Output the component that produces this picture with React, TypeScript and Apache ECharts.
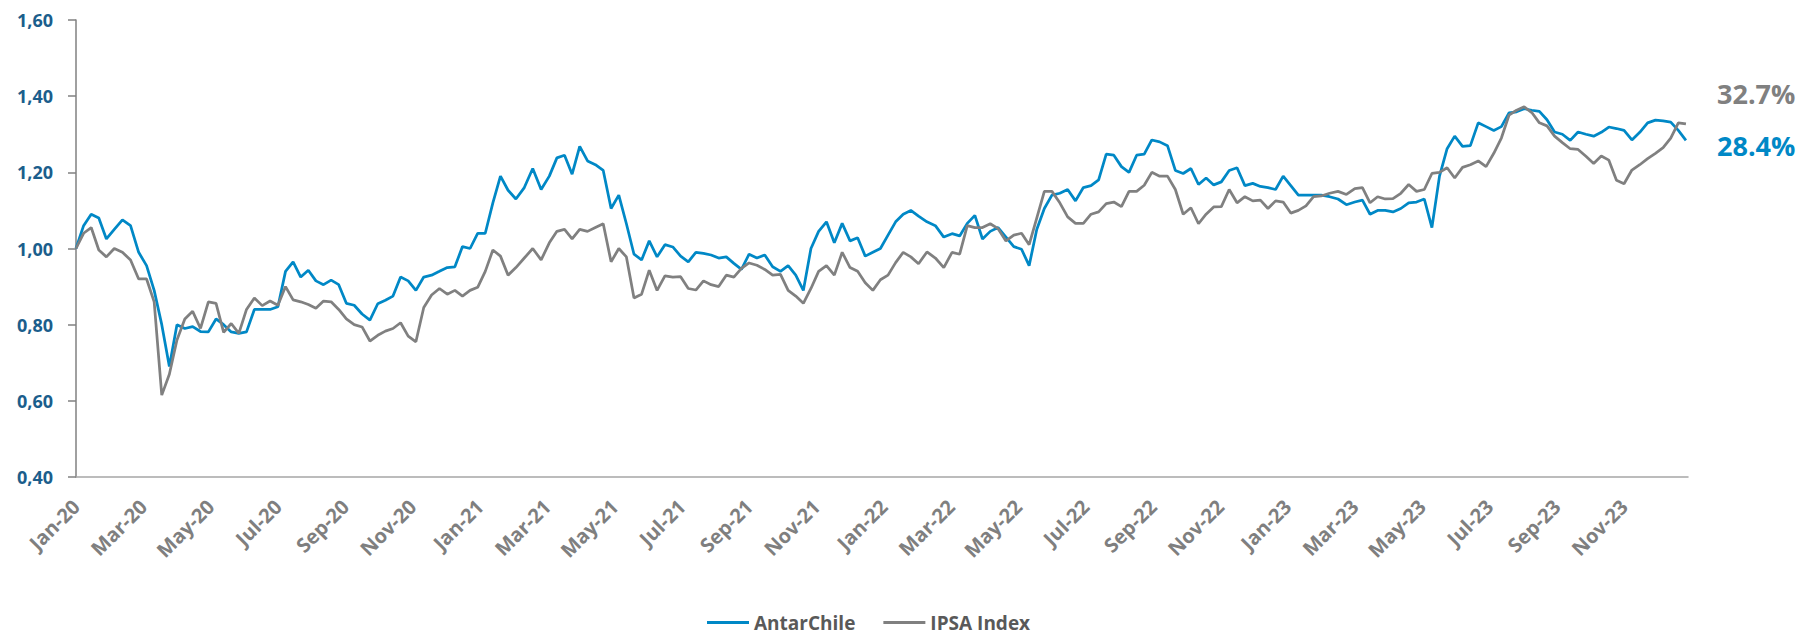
import React, { useEffect, useRef } from "react";
import * as echarts from "echarts";

// Weekly observations, starting 1 Jan 2020 (base = 1.00)
const antarChile: number[] = [
  1.00, 1.06, 1.09, 1.08, 1.025, 1.05, 1.075, 1.06, 0.99, 0.955,
  0.89, 0.80, 0.69, 0.80, 0.79, 0.795, 0.782, 0.781, 0.815, 0.80,
  0.781, 0.777, 0.781, 0.84, 0.84, 0.84, 0.847, 0.94, 0.965, 0.925,
  0.943, 0.915, 0.905, 0.917, 0.905, 0.856, 0.851, 0.828, 0.812, 0.855,
  0.864, 0.875, 0.925, 0.915, 0.89, 0.925, 0.93, 0.94, 0.95, 0.952,
  1.005, 1.00, 1.04, 1.04, 1.12, 1.19, 1.153, 1.13, 1.16, 1.21,
  1.155, 1.19, 1.238, 1.245, 1.195, 1.268, 1.23, 1.22, 1.205, 1.105,
  1.14, 1.065, 0.985, 0.97, 1.02, 0.978, 1.01, 1.004, 0.98, 0.965,
  0.99, 0.987, 0.983, 0.975, 0.978, 0.961, 0.945, 0.985, 0.975, 0.983,
  0.952, 0.94, 0.955, 0.93, 0.89, 1.00, 1.045, 1.07, 1.015, 1.066,
  1.02, 1.028, 0.98, 0.99, 1.00, 1.035, 1.07, 1.09, 1.10, 1.085,
  1.07, 1.06, 1.03, 1.039, 1.033, 1.066, 1.087, 1.025, 1.045, 1.055,
  1.03, 1.005, 0.998, 0.955, 1.05, 1.105, 1.14, 1.145, 1.155, 1.125,
  1.16, 1.165, 1.18, 1.248, 1.245, 1.215, 1.20, 1.245, 1.248, 1.285,
  1.28, 1.27, 1.205, 1.197, 1.21, 1.168, 1.185, 1.167, 1.175, 1.205,
  1.212, 1.165, 1.171, 1.163, 1.16, 1.155, 1.19, 1.165, 1.14, 1.14,
  1.14, 1.14, 1.136, 1.13, 1.115, 1.122, 1.127, 1.09, 1.10, 1.10,
  1.096, 1.105, 1.12, 1.122, 1.13, 1.055, 1.19, 1.262, 1.295, 1.268,
  1.27, 1.33, 1.32, 1.31, 1.32, 1.356, 1.359, 1.367, 1.363, 1.36,
  1.338, 1.306, 1.30, 1.284, 1.306, 1.30, 1.295, 1.305, 1.319, 1.315,
  1.31, 1.285, 1.305, 1.33, 1.337, 1.335, 1.332, 1.31, 1.284,
];

const ipsaIndex: number[] = [
  1.00, 1.04, 1.055, 0.996, 0.978, 1.00, 0.99, 0.97, 0.92, 0.92,
  0.86, 0.615, 0.67, 0.76, 0.815, 0.835, 0.79, 0.86, 0.856, 0.78,
  0.803, 0.777, 0.84, 0.87, 0.85, 0.862, 0.851, 0.90, 0.865, 0.86,
  0.853, 0.843, 0.862, 0.86, 0.84, 0.815, 0.80, 0.794, 0.757, 0.772,
  0.783, 0.79, 0.805, 0.77, 0.755, 0.845, 0.878, 0.895, 0.88, 0.89,
  0.875, 0.89, 0.898, 0.94, 0.996, 0.98, 0.93, 0.95, 0.975, 1.00,
  0.97, 1.015, 1.045, 1.05, 1.025, 1.05, 1.045, 1.055, 1.065, 0.965,
  1.00, 0.978, 0.87, 0.88, 0.943, 0.89, 0.928, 0.925, 0.926, 0.895,
  0.891, 0.915, 0.905, 0.90, 0.93, 0.925, 0.948, 0.962, 0.956, 0.945,
  0.93, 0.932, 0.89, 0.875, 0.856, 0.895, 0.94, 0.955, 0.93, 0.99,
  0.95, 0.94, 0.91, 0.89, 0.918, 0.93, 0.963, 0.99, 0.978, 0.96,
  0.991, 0.975, 0.95, 0.99, 0.985, 1.06, 1.055, 1.055, 1.065, 1.052,
  1.02, 1.035, 1.04, 1.01, 1.08, 1.15, 1.15, 1.12, 1.083, 1.066,
  1.066, 1.09, 1.096, 1.118, 1.122, 1.11, 1.15, 1.15, 1.166, 1.20,
  1.19, 1.19, 1.155, 1.09, 1.107, 1.065, 1.09, 1.109, 1.11, 1.155,
  1.12, 1.136, 1.125, 1.127, 1.105, 1.125, 1.122, 1.093, 1.10, 1.112,
  1.136, 1.138, 1.145, 1.15, 1.142, 1.157, 1.16, 1.12, 1.136, 1.13,
  1.131, 1.145, 1.168, 1.15, 1.155, 1.197, 1.20, 1.212, 1.185, 1.213,
  1.22, 1.23, 1.215, 1.25, 1.29, 1.35, 1.363, 1.372, 1.357, 1.33,
  1.322, 1.295, 1.278, 1.262, 1.26, 1.242, 1.223, 1.243, 1.232, 1.179,
  1.17, 1.206, 1.22, 1.236, 1.25, 1.265, 1.29, 1.33, 1.327,
];

const monthNames = ["Jan", "Feb", "Mar", "Apr", "May", "Jun", "Jul", "Aug", "Sep", "Oct", "Nov", "Dec"];
const seriesNames = ["AntarChile", "IPSA Index"];
const endLabels = ["28.4%", "32.7%"];

const BLUE = "#0088C6";
const GRAY = "#808080";

// month offset since Jan 2020 for weekly date i
function monthPos(i: number): number {
  const d = new Date(2020, 0, 1 + 7 * i);
  const y = d.getFullYear();
  const m = d.getMonth();
  const dim = new Date(y, m + 1, 0).getDate();
  return (y - 2020) * 12 + m + (d.getDate() - 1) / dim;
}

export default function App() {
  const ref = useRef<HTMLDivElement>(null);
  useEffect(() => {
    if (!ref.current) return;
    const chart = echarts.init(ref.current, null, { renderer: "svg" });
    const font = "'Open Sans', sans-serif";
    chart.setOption({
      animation: false,
      backgroundColor: "#ffffff",
      grid: { left: 76, right: 116, top: 20, bottom: 157 },
      legend: {
        data: seriesNames,
        left: 702,
        top: 608,
        icon: "rect",
        itemWidth: 42,
        itemHeight: 3,
        itemGap: 28,
        textStyle: { fontFamily: font, fontSize: 19, fontWeight: "bold", color: "#595959" },
      },
      xAxis: {
        type: "value",
        min: 0,
        max: 47.9,
        interval: 2,
        axisLine: { show: true, lineStyle: { color: "#a6a6a6", width: 1.5 } },
        axisTick: { show: false },
        splitLine: { show: false },
        axisLabel: {
          rotate: 45,
          margin: 26,
          showMaxLabel: false,
          color: "#7f7f7f",
          fontFamily: font,
          fontSize: 20,
          fontWeight: "bold",
          formatter: (v: number) => {
            if (Math.abs(v - Math.round(v)) > 1e-6) return "";
            const r = Math.round(v);
            if (r >= 48) return "";
            return monthNames[r % 12] + "-" + (20 + Math.floor(r / 12));
          },
        },
      },
      yAxis: {
        type: "value",
        min: 0.4,
        max: 1.6,
        interval: 0.2,
        axisLine: { show: true, lineStyle: { color: "#808080", width: 1.5 } },
        axisTick: { show: true, inside: false, length: 8, lineStyle: { color: "#808080", width: 1.5 } },
        splitLine: { show: false },
        axisLabel: {
          margin: 23,
          color: "#1B5E8C",
          fontFamily: font,
          fontSize: 18,
          fontWeight: "bold",
          formatter: (v: number) => v.toFixed(2).replace(".", ","),
        },
      },
      series: [
        {
          name: seriesNames[0],
          type: "line",
          showSymbol: false,
          color: BLUE,
          lineStyle: { color: BLUE, width: 2.75 },
          data: antarChile.map((v, i) => [monthPos(i), v]),
        },
        {
          name: seriesNames[1],
          type: "line",
          showSymbol: false,
          color: GRAY,
          lineStyle: { color: GRAY, width: 2.75 },
          data: ipsaIndex.map((v, i) => [monthPos(i), v]),
        },
      ],
      graphic: [
        {
          type: "text",
          left: 1717,
          top: 80,
          style: { text: endLabels[1], fill: GRAY, font: `bold 27px ${font}` },
        },
        {
          type: "text",
          left: 1717,
          top: 132,
          style: { text: endLabels[0], fill: BLUE, font: `bold 27px ${font}` },
        },
      ],
    });
    return () => chart.dispose();
  }, []);
  return <div ref={ref} style={{ position: "fixed", left: 0, top: 0, width: 1804, height: 634, background: "#fff" }} />;
}
